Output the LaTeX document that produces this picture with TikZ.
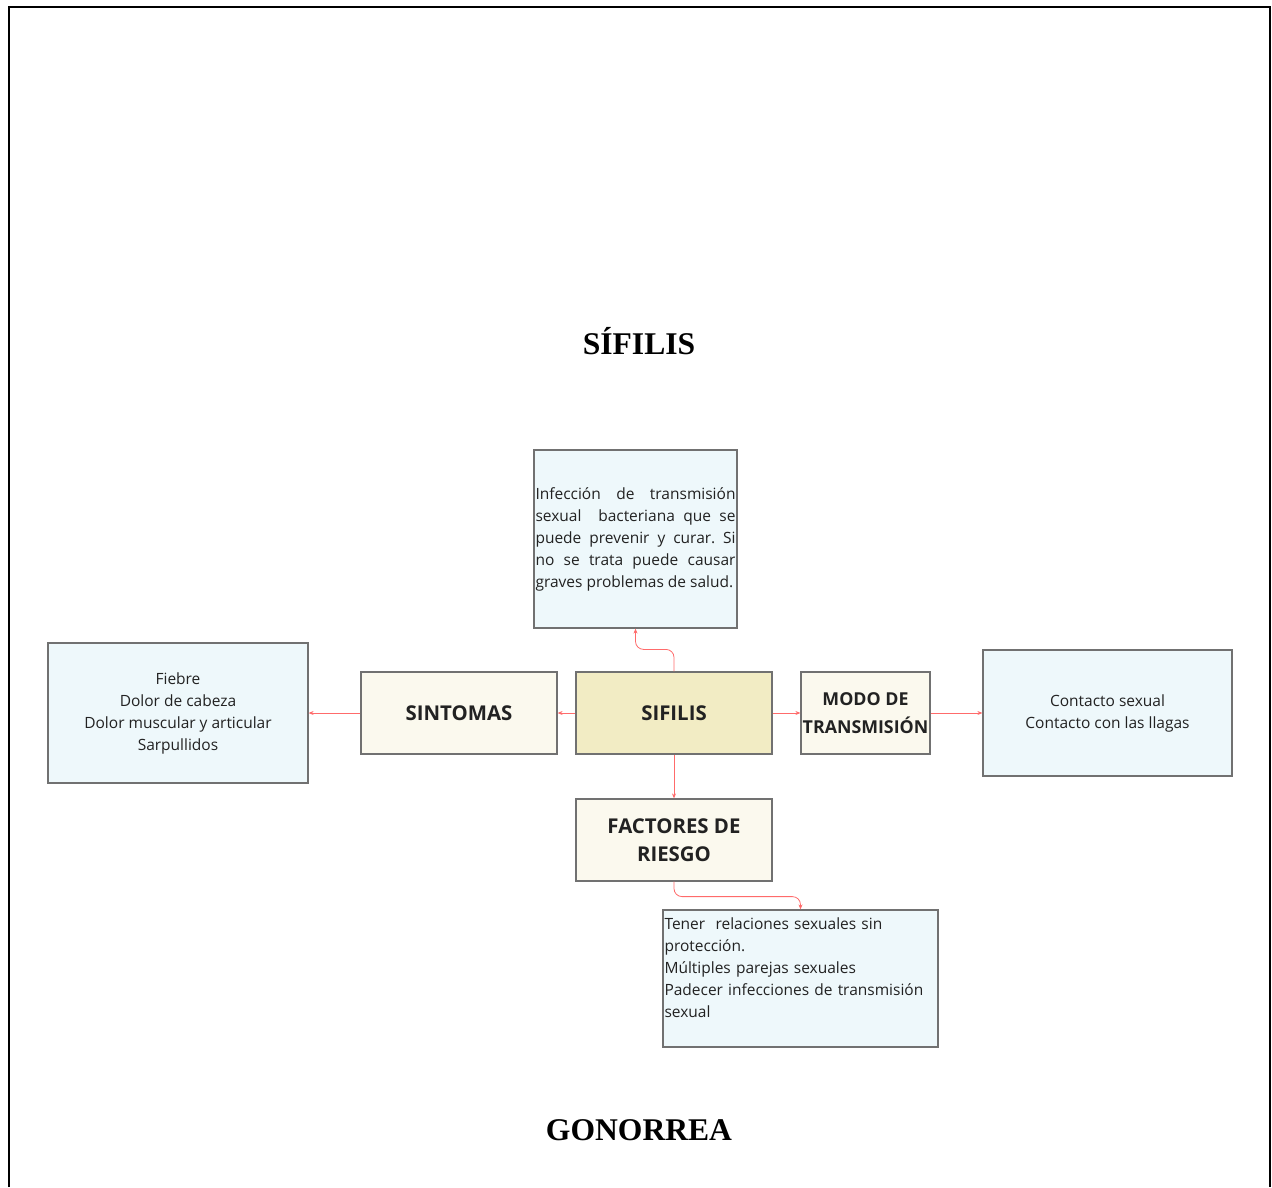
\documentclass[tikz,border=0pt]{standalone}
\usepackage{fontspec}
\setmainfont{Open Sans}
\newfontfamily\titlefont{Liberation Serif}
\usetikzlibrary{arrows.meta}
\definecolor{boxline}{HTML}{717171}
\definecolor{bluefill}{HTML}{EEF8FB}
\definecolor{creamfill}{HTML}{FBF9EE}
\definecolor{olivefill}{HTML}{F2ECC4}
\definecolor{linkred}{HTML}{FF6B6B}
\definecolor{textgray}{HTML}{222222}
\newcommand{\jline}[1]{\leavevmode\hbox to 100pt{\spaceskip=0.26em plus 1em\relax #1}}

\begin{document}
\begin{tikzpicture}[x=0.5pt,y=-0.5pt,
  infobox/.style={draw=boxline,fill=bluefill,line width=0.6pt,inner sep=0pt,font=\fontsize{7.75}{11}\selectfont,text=textgray},
  headbox/.style={draw=boxline,fill=creamfill,line width=0.6pt,inner sep=0pt,align=center,font=\fontsize{10.2}{14}\selectfont\bfseries,text=textgray},
  link/.style={draw=linkred,line width=0.4pt,-{Stealth[length=2.5pt,width=2pt]},rounded corners=4pt},
  title/.style={font=\titlefont\fontsize{15.8}{18}\selectfont\bfseries}]
\useasboundingbox (0,0) rectangle (1272,1187);
\draw[line width=1pt] (9,1187) -- (9,7) -- (1270,7) -- (1270,1187);
\node[title] (t1) at (639,341) {SÍFILIS};
\node[title] (t2) at (639,1130) {GONORREA};
% central row
\node[headbox,fill=olivefill,minimum width=98pt,minimum height=41pt] (sifi) at (674,713) {SIFILIS};
\node[headbox,minimum width=98pt,minimum height=41pt] (sint) at (459,713) {SINTOMAS};
\node[headbox,minimum width=64.5pt,minimum height=41pt,font=\fontsize{8.9}{14}\selectfont\bfseries] (modo) at (865.5,713) {MODO DE\\TRANSMISIÓN};
\node[headbox,minimum width=98pt,minimum height=41pt] (fact) at (674,840) {FACTORES DE\\RIESGO};
% text boxes
\node[infobox,minimum width=101.5pt,minimum height=89pt,text width=100pt,align=left] (desc) at (635.5,539)
  {\jline{Infección\ \ de\ \ transmisión}\\
   \jline{sexual\ \ bacteriana que se}\\
   \jline{puede prevenir y curar. Si}\\
   \jline{no se trata puede causar}\\
   \jline{graves problemas de salud.\hfil}};
\node[infobox,minimum width=130pt,minimum height=70pt,align=center] (sintlist) at (178,713)
  {Fiebre\\Dolor de cabeza\\Dolor muscular y articular\\Sarpullidos};
\node[infobox,minimum width=124.5pt,minimum height=63pt,align=center] (contact) at (1107.5,713)
  {Contacto sexual\\Contacto con las llagas};
\node[infobox,minimum width=137.5pt,minimum height=68.5pt,text width=136pt,align=left] (risk) at (800.5,978.5)
  {Tener\ \ relaciones sexuales sin\\protección.\\Múltiples parejas sexuales\\Padecer infecciones de transmisión\\sexual\\\mbox{}};
% connectors
\path
(sifi.west) edge[link] (sint.east)
(sint.west) edge[link] (sintlist.east)
(sifi.east) edge[link] (modo.west)
(modo.east) edge[link] (contact.west)
(sifi.south) edge[link] (fact.north)
;
\draw[link] (sifi.north) -- ++(0,-22) -| (desc.south);
\draw[link] (fact.south) -- ++(0,15) -| (risk.north);
\end{tikzpicture}
\end{document}
